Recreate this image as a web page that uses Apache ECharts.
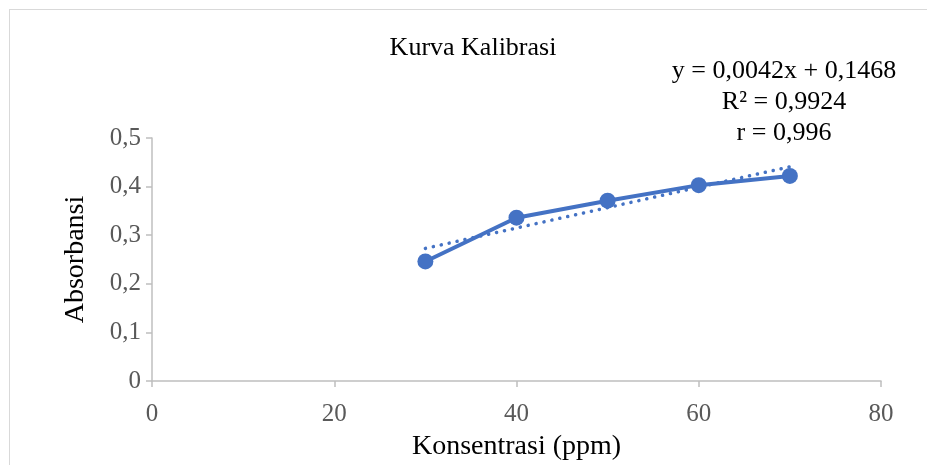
<!DOCTYPE html>
<html>
<head>
<meta charset="utf-8">
<script src="https://cdn.jsdelivr.net/npm/echarts@6/dist/echarts.min.js"></script>
<style>html,body{margin:0;padding:0;background:#fff}#c{width:927px;height:465px}</style>
</head>
<body>
<div id="c"></div>
<script>
const concentrations = [30, 40, 50, 60, 70];
const absorbances = [0.246, 0.336, 0.371, 0.403, 0.422];
const slope = 0.0042;
const intercept = 0.1468;
const trendX = [30, 70];
const xTicks = [0, 20, 40, 60, 80];
const yTicks = [0, 0.1, 0.2, 0.3, 0.4, 0.5];
const titleText = 'Kurva Kalibrasi';
const equationLines = ['y = 0,0042x + 0,1468', 'R² = 0,9924', 'r = 0,996'];

const chart = echarts.init(document.getElementById('c'));
const fmt = v => String(Math.round(v * 10) / 10).replace('.', ',');
const serif = '"Liberation Serif", "Times New Roman", serif';
const blue = '#4472C4';
chart.setOption({
  animation: false,
  backgroundColor: '#fff',
  graphic: [
    { type: 'line', shape: { x1: 9, y1: 9.5, x2: 927, y2: 9.5 }, style: { stroke: '#D9D9D9', lineWidth: 1 } },
    { type: 'line', shape: { x1: 9.5, y1: 9, x2: 9.5, y2: 465 }, style: { stroke: '#D9D9D9', lineWidth: 1 } },
    { type: 'text', x: 473, y: 48, style: { text: titleText, font: '26px ' + serif, fill: '#000', align: 'center', verticalAlign: 'middle' } },
    { type: 'text', x: 784, y: 102, style: { text: equationLines.join('\n'), font: '26px ' + serif, fill: '#000', align: 'center', verticalAlign: 'middle', lineHeight: 31 } }
  ],
  grid: { left: 152, right: 46, top: 138, bottom: 84, outerBoundsMode: 'none', containLabel: false },
  xAxis: {
    type: 'value', min: 0, max: 80, interval: 20,
    name: 'Konsentrasi (ppm)', nameLocation: 'middle', nameGap: 52,
    nameTextStyle: { fontFamily: serif, fontSize: 28, color: '#000' },
    axisLine: { show: true, lineStyle: { color: '#BFBFBF', width: 1.5 } },
    axisTick: { show: true, length: 6, lineStyle: { color: '#BFBFBF', width: 1.5 } },
    axisLabel: { fontFamily: serif, fontSize: 25, color: '#595959', margin: 21, formatter: v => fmt(v) },
    splitLine: { show: false }
  },
  yAxis: {
    type: 'value', min: 0, max: 0.5, interval: 0.1,
    name: 'Absorbansi', nameLocation: 'middle', nameGap: 62,
    nameTextStyle: { fontFamily: serif, fontSize: 28, color: '#000' },
    axisLine: { show: true, lineStyle: { color: '#BFBFBF', width: 1.5 } },
    axisTick: { show: true, length: 6, lineStyle: { color: '#BFBFBF', width: 1.5 } },
    axisLabel: { fontFamily: serif, fontSize: 25, color: '#595959', margin: 11, formatter: v => fmt(v) },
    splitLine: { show: false }
  },
  series: [
    {
      type: 'line',
      data: trendX.map(x => [x, slope * x + intercept]),
      symbol: 'none',
      lineStyle: { color: blue, width: 3.5, type: [0.1, 8], cap: 'round' },
      z: 1
    },
    {
      type: 'line',
      data: concentrations.map((x, i) => [x, absorbances[i]]),
      symbol: 'circle', symbolSize: 16,
      itemStyle: { color: blue },
      lineStyle: { color: blue, width: 4 },
      z: 2
    }
  ]
});
</script>
</body>
</html>
